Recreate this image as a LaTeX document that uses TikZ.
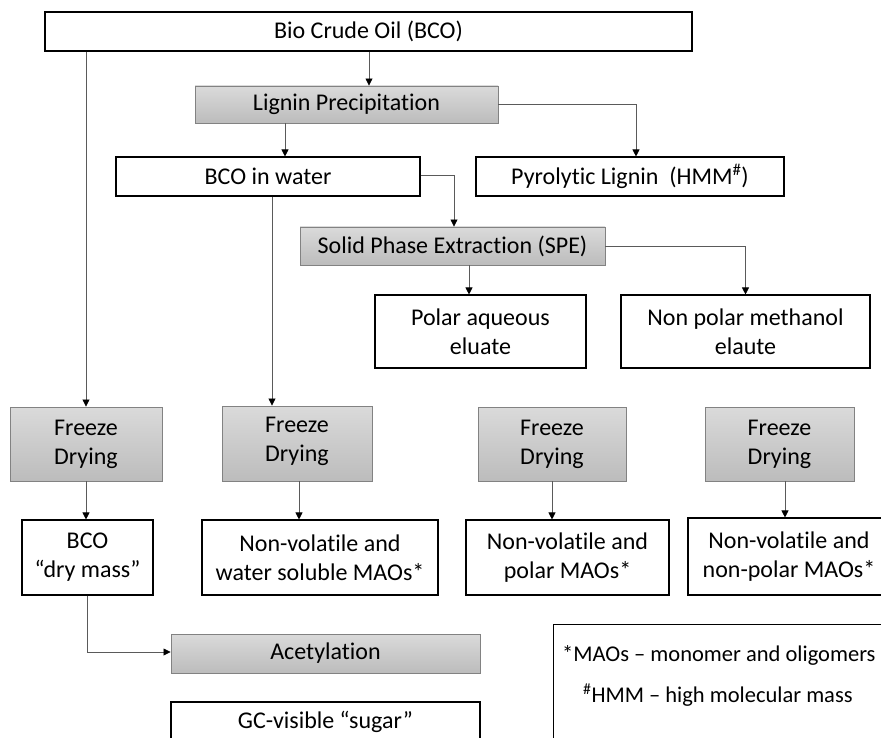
\documentclass[tikz,border=0pt]{standalone}
\usepackage{fontspec}
\setmainfont[Ligatures=NoCommon]{Carlito}
\usetikzlibrary{arrows.meta,calc}
\definecolor{linegray}{RGB}{90,90,90}
\definecolor{boxedge}{RGB}{130,130,130}
\definecolor{shtop}{RGB}{218,218,218}
\definecolor{shbot}{RGB}{188,188,188}
\tikzset{
  wbox/.style={draw=black, line width=1.1pt, fill=white, inner sep=0pt, align=center,
    font=\fontsize{24}{29}\selectfont},
  gbox/.style={draw=boxedge, line width=0.9pt, top color=shtop, bottom color=shbot, inner sep=0pt, align=center,
    font=\fontsize{24}{29}\selectfont},
  arr/.style={draw=linegray, line width=0.8pt, -{Triangle[length=7pt,width=7pt,color=black]}},
  notetext/.style={anchor=west, inner sep=0pt, font=\fontsize{22.5}{28}\selectfont}
}
\begin{document}
\begin{tikzpicture}[x=1pt,y=-1pt]
\useasboundingbox (0,0) rectangle (881,738);
\fill[white] (0,0) rectangle (881,738);
% nodes
\node[wbox, minimum width=647pt, minimum height=39pt] (bco) at (368.5,31.5) {Bio Crude Oil (BCO)};
\node[gbox, minimum width=303pt, minimum height=37pt] (lig) at (346.5,104.5) {Lignin Precipitation};
\node[wbox, minimum width=304pt, minimum height=39pt] (water) at (268,176.5) {BCO in water};
\node[wbox, minimum width=308pt, minimum height=39pt] (pyro) at (630,176.5) {Pyrolytic Lignin\ \ (HMM\textsuperscript{\#})};
\node[gbox, minimum width=305pt, minimum height=38pt] (spe) at (452.5,246) {Solid Phase Extraction (SPE)};
\node[wbox, minimum width=211pt, minimum height=73pt] (polar) at (480.5,331.5) {Polar aqueous\\eluate};
\node[wbox, minimum width=249pt, minimum height=73pt] (nonpolar) at (745.5,331.5) {Non polar methanol\\elaute};
\node[gbox, minimum width=152pt, minimum height=74pt] (f1) at (86,444) {Freeze\\Drying};
\node[gbox, minimum width=150pt, minimum height=75pt, text depth=9pt] (f2) at (297,443.5) {Freeze\\Drying};
\node[gbox, minimum width=148pt, minimum height=74pt] (f3) at (552,444) {Freeze\\Drying};
\node[gbox, minimum width=149pt, minimum height=74pt] (f4) at (779.5,444) {Freeze\\Drying};
\node[wbox, minimum width=131pt, minimum height=75pt] (r1) at (87.5,557.5) {BCO\\“dry mass”};
\node[wbox, minimum width=236pt, minimum height=75pt] (r2) at (320,557.5) {Non-volatile and\\water soluble MAOs*};
\node[wbox, minimum width=203pt, minimum height=75pt] (r3) at (567.5,557.5) {Non-volatile and\\polar MAOs*};
\node[wbox, minimum width=202pt, minimum height=77pt] (r4) at (789,556.5) {Non-volatile and\\non-polar MAOs*};
\node[gbox, minimum width=309pt, minimum height=39pt] (acet) at (325.5,653.5) {Acetylation};
\node[wbox, minimum width=309pt, minimum height=39pt] (gc) at (325.5,721.5) {GC-visible “sugar”};
% note box
\draw[draw=black, line width=1pt] (553,624) rectangle (900,760);
\node[notetext] (n1) at (562,655) {*MAOs – monomer and oligomers};
\node[notetext] (n2) at (583,695) {\textsuperscript{\#}HMM – high molecular mass};
% connectors
\draw[arr] ([xshift=0.5]bco.south) -- ([xshift=0.5]bco.south |- lig.north);
\draw[arr] (f1.north |- bco.south) -- (f1.north);
\draw[arr] ([xshift=-61.5]lig.south) -- ([xshift=-61.5]lig.south |- water.north);
\draw[arr] (lig.east) -| ([xshift=6]pyro.north);
\draw[arr] ([yshift=1.5]water.east) -| ([xshift=1.5]spe.north);
\draw[arr] ([xshift=4]water.south) -- ([xshift=4]water.south |- f2.north);
\draw[arr] ([xshift=16.5]spe.south) -- ([xshift=16.5]spe.south |- polar.north);
\draw[arr] (spe.east) -| (nonpolar.north);
\draw[arr] (f1.south) -- (f1.south |- r1.north);
\draw[arr] ([xshift=2]f2.south) -- ([xshift=2]f2.south |- r2.north);
\draw[arr] (f3.south) -- (f3.south |- r3.north);
\draw[arr] ([xshift=5.5]f4.south) -- ([xshift=5.5]f4.south |- r4.north);
\draw[arr] (r1.south) |- ([yshift=1.5]acet.west);
\end{tikzpicture}
\end{document}
